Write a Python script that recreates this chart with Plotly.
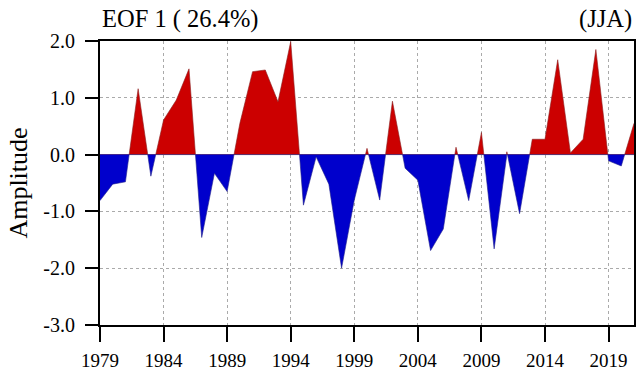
import plotly.graph_objects as go
import numpy as np

years = list(range(1979, 2022))
amplitude = [
    -0.81, -0.52, -0.48, 1.16, -0.38, 0.61, 0.96, 1.51, -1.46, -0.33,
    -0.65, 0.55, 1.46, 1.49, 0.93, 1.99, -0.89, -0.04, -0.52, -2.00,
    -0.80, 0.11, -0.80, 0.94, -0.24, -0.45, -1.69, -1.31, 0.13, -0.81,
    0.39, -1.66, 0.05, -1.04, 0.27, 0.27, 1.67, 0.03, 0.27, 1.85,
    -0.11, -0.20, 0.55,
]
x_ticks = [1979, 1984, 1989, 1994, 1999, 2004, 2009, 2014, 2019]
y_ticks = [2.0, 1.0, 0.0, -1.0, -2.0, -3.0]
y_tick_labels = ["2.0", "1.0", "0.0", "-1.0", "-2.0", "-3.0"]

# insert zero crossings so the red/blue fills split cleanly at 0
xs, ys = [years[0]], [amplitude[0]]
for i in range(1, len(years)):
    y0, y1 = amplitude[i - 1], amplitude[i]
    if y0 * y1 < 0:
        xc = years[i - 1] + (years[i] - years[i - 1]) * (-y0) / (y1 - y0)
        xs.append(xc)
        ys.append(0.0)
    xs.append(years[i])
    ys.append(y1)
ys = np.array(ys)

fig = go.Figure()
fig.add_trace(go.Scatter(
    x=xs, y=np.maximum(ys, 0), fill="tozeroy", mode="lines",
    fillcolor="#CC0000", line=dict(color="#8a2020", width=0.6),
    hoverinfo="skip"
))
fig.add_trace(go.Scatter(
    x=xs, y=np.minimum(ys, 0), fill="tozeroy", mode="lines",
    fillcolor="#0000CC", line=dict(color="#20208a", width=0.6),
    hoverinfo="skip"
))

font_family = "Liberation Serif, Times New Roman, serif"

fig.update_layout(
    width=640, height=376,
    margin=dict(l=100, r=4, t=41, b=51),
    plot_bgcolor="white", paper_bgcolor="white",
    showlegend=False,
    font=dict(family=font_family, color="black", size=19),
    annotations=[
        dict(text="EOF 1 ( 26.4%)", x=0, y=1, xref="paper", yref="paper",
             xanchor="left", yanchor="bottom", yshift=6, showarrow=False,
             font=dict(size=24.5)),
        dict(text="(JJA)", x=1, y=1, xref="paper", yref="paper",
             xanchor="right", yanchor="bottom", yshift=6, showarrow=False,
             font=dict(size=24.5)),
    ],
)

fig.update_xaxes(
    range=[1979, 2021], tickvals=x_ticks, ticktext=[str(v) for v in x_ticks],
    ticks="outside", ticklen=15, tickwidth=2, tickcolor="black",
    showline=True, linecolor="black", linewidth=2, mirror=True,
    showgrid=True, gridcolor="#aaaaaa", griddash="dot", gridwidth=1,
    zeroline=False, tickfont=dict(size=19), ticklabelstandoff=2,
)
fig.update_yaxes(
    range=[-3, 2], tickvals=y_ticks, ticktext=y_tick_labels,
    ticks="outside", ticklen=13, tickwidth=2, tickcolor="black",
    showline=True, linecolor="black", linewidth=2, mirror=True,
    showgrid=True, gridcolor="#aaaaaa", griddash="dot", gridwidth=1,
    zeroline=True, zerolinecolor="#888888", zerolinewidth=1,
    title=dict(text="Amplitude", font=dict(size=26), standoff=8),
    tickfont=dict(size=20), ticklabelstandoff=6,
)

fig.write_html(
    "out.html",
    config={"displayModeBar": False},
    post_script="document.body.style.margin='0';",
)
